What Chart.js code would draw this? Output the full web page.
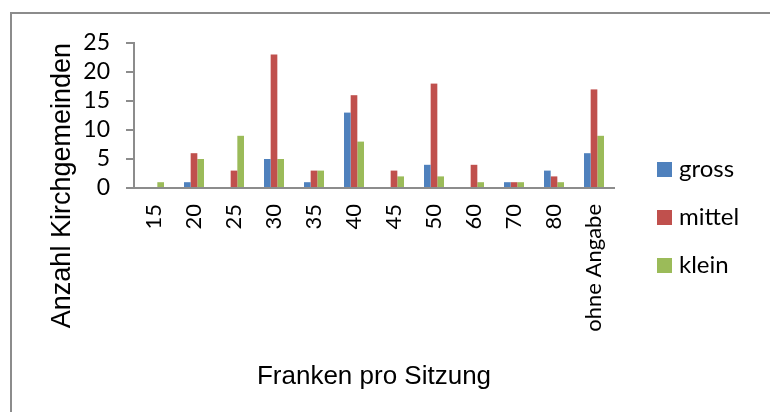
<!DOCTYPE html>
<html>
<head>
<meta charset="utf-8">
<script src="https://cdn.jsdelivr.net/npm/chart.js@4"></script>
<style>
  body { margin: 0; background: #fff; }
  #frame { position: absolute; left: 10px; top: 12px; width: 800px; height: 450px; border: 2px solid #8c8c8c; }
  #barChart { position: absolute; left: 0; top: 0; }
</style>
</head>
<body>
<div id="frame"></div>
<canvas id="barChart" width="770" height="412"></canvas>
<script>
const categories = ['15', '20', '25', '30', '35', '40', '45', '50', '60', '70', '80', 'ohne Angabe'];
const gross  = [0, 1, 0, 5, 1, 13, 0, 4, 0, 1, 3, 6];
const mittel = [0, 6, 3, 23, 3, 16, 3, 18, 4, 1, 2, 17];
const klein  = [1, 5, 9, 5, 3, 8, 2, 2, 1, 1, 1, 9];
const yTicks = [0, 5, 10, 15, 20, 25];

// legend drawn to the right, like the excel one
const sideLegend = {
  id: 'sideLegend',
  afterDraw(chart) {
    const ctx = chart.ctx;
    ctx.save();
    ctx.font = '24px Lato';
    ctx.textBaseline = 'middle';
    chart.data.datasets.forEach((ds, i) => {
      const y = 169 + i * 48;
      ctx.fillStyle = ds.backgroundColor;
      ctx.fillRect(657, y - 7, 15, 15);
      ctx.fillStyle = '#000';
      ctx.fillText(ds.label, 679, y);
    });
    ctx.restore();
  }
};

const ctx = document.getElementById('barChart').getContext('2d');
new Chart(ctx, {
  type: 'bar',
  data: {
    labels: categories,
    datasets: [
      { label: 'gross', data: gross, backgroundColor: '#4F81BD', barPercentage: 1.0, categoryPercentage: 0.5 },
      { label: 'mittel', data: mittel, backgroundColor: '#C0504D', barPercentage: 1.0, categoryPercentage: 0.5 },
      { label: 'klein', data: klein, backgroundColor: '#9BBB59', barPercentage: 1.0, categoryPercentage: 0.5 }
    ]
  },
  options: {
    responsive: false,
    animation: false,
    layout: { padding: { top: 43, right: 156, left: 0, bottom: 0 } },
    scales: {
      x: {
        grid: { display: false, drawTicks: false },
        border: { color: '#8c8c8c', width: 2 },
        ticks: {
          color: '#000',
          font: { family: 'Lato', size: 22 },
          minRotation: 90,
          maxRotation: 90,
          padding: 16,
          autoSkip: false
        },
        title: {
          display: true,
          text: 'Franken pro Sitzung',
          color: '#000',
          font: { family: 'Liberation Sans', size: 26 },
          padding: { top: 0, bottom: 20 }
        },
        afterFit: (scale) => { scale.height = 224; }
      },
      y: {
        min: 0,
        max: 25,
        afterBuildTicks: (scale) => { scale.ticks = yTicks.map(v => ({ value: v })); },
        grid: { drawOnChartArea: false, drawTicks: true, tickLength: 8, color: '#8c8c8c', lineWidth: 2 },
        border: { color: '#8c8c8c', width: 2 },
        ticks: {
          color: '#000',
          font: { family: 'Lato', size: 23 },
          padding: 16,
          autoSkip: false
        },
        title: {
          display: true,
          text: 'Anzahl Kirchgemeinden',
          align: 'end',
          color: '#000',
          font: { family: 'Liberation Sans', size: 27 },
          padding: { top: 46, bottom: 0 }
        },
        afterFit: (scale) => { scale.width = 134; }
      }
    },
    plugins: {
      legend: { display: false },
      tooltip: { enabled: false }
    }
  },
  plugins: [sideLegend]
});
</script>
</body>
</html>
